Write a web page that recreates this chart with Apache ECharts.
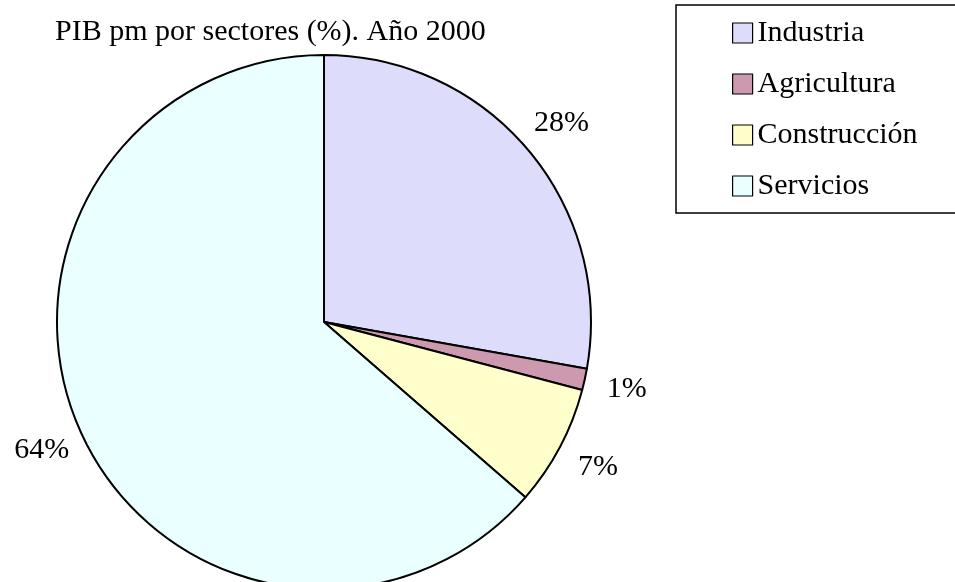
<!DOCTYPE html>
<html>
<head>
<meta charset="utf-8">
<script src="https://cdn.jsdelivr.net/npm/echarts@6/dist/echarts.min.js"></script>
<style>
    html, body {margin: 0; padding: 0; background: #fff;}
    #chart {width: 955px; height: 582px;}
</style>
</head>
<body>
<div id="chart"></div>
<script>
    const sectores = ['Industria', 'Agricultura', 'Construcción', 'Servicios'];
    const valores = [27.8, 1.3, 7.3, 63.6];
    const colores = ['#DDDDFB', '#CC99AE', '#FFFFCC', '#EAFFFF'];

    const FONT = '"Liberation Serif", "Times New Roman", serif';
    const datos = sectores.map((name, i) => ({name, value: valores[i], itemStyle: {color: colores[i]}}));

    const chart = echarts.init(document.getElementById('chart'), null, {renderer: 'canvas'});
    chart.setOption({
        animation: false,
        title: {
            text: 'PIB pm por sectores (%). Año 2000',
            left: 55, top: 17, padding: 0,
            textStyle: {fontFamily: FONT, fontSize: 30, fontWeight: 'normal', color: '#000'}
        },
        legend: {
            orient: 'vertical', left: 676, top: 5,
            data: sectores, icon: 'rect',
            itemWidth: 20, itemHeight: 20, itemGap: 21,
            padding: [13, 80, 12, 56],
            borderColor: '#000', borderWidth: 1.5,
            itemStyle: {borderColor: '#000', borderWidth: 1.2},
            selectedMode: false,
            textStyle: {fontFamily: FONT, fontSize: 30, lineHeight: 30, color: '#000'}
        },
        series: [
            {
                type: 'pie', center: [324, 322], radius: 267,
                startAngle: 90, clockwise: true,
                label: {show: false}, labelLine: {show: false},
                itemStyle: {borderColor: '#000', borderWidth: 2},
                emphasis: {disabled: true},
                data: datos
            },
            {
                // capa de etiquetas centradas fuera del sector
                type: 'pie', center: [324, 322], radius: [284, 330],
                startAngle: 90, clockwise: true, silent: true,
                itemStyle: {color: 'rgba(0,0,0,0)', borderWidth: 0},
                label: {
                    show: true, position: 'inside',
                    formatter: p => Math.round(p.percent) + '%',
                    fontFamily: FONT, fontSize: 30, color: '#000'
                },
                labelLine: {show: false},
                emphasis: {disabled: true},
                data: sectores.map((name, i) => ({name, value: valores[i]}))
            }
        ]
    });
</script>
</body>
</html>
